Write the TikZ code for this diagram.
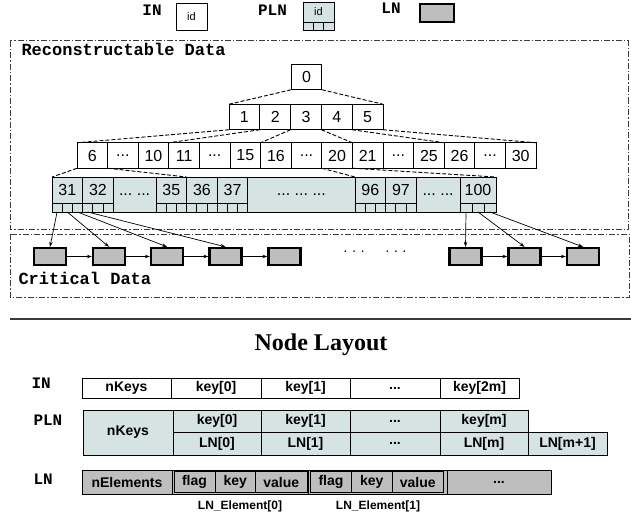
\documentclass[tikz,border=0pt]{standalone}
\usepackage{fontspec}
\setmainfont{Liberation Sans}
\setmonofont{Liberation Mono}
\newfontfamily\timesfont{Liberation Serif}
\usetikzlibrary{arrows.meta}
\definecolor{plnblue}{RGB}{214,227,227}
\definecolor{lngray}{RGB}{190,190,190}
\definecolor{framegray}{RGB}{60,60,60}
\newcommand\fsz[1]{\fontsize{#1}{#1}\selectfont}
\newcommand\ellip{...}

\tikzset{
  tcell/.style={draw, line width=0.9pt, inner sep=0pt, outer sep=0pt,
    minimum width=30.6pt, minimum height=25.5pt, font=\fsz{16}},
  leaf/.style={tcell, fill=plnblue, minimum height=26pt, anchor=north west},
  ptr/.style={draw, fill=plnblue, line width=0.7pt, inner sep=0pt, outer sep=0pt,
    minimum width=10.2pt, minimum height=9pt, anchor=north west},
  lnbox/.style={draw, fill=lngray, line width=2.3pt, inner sep=0pt,
    minimum width=32pt, minimum height=17pt},
  tag/.style={font=\ttfamily\bfseries\fsz{16}},
  frame/.style={draw=framegray, line width=1pt,
    dash pattern=on 6pt off 2pt on 1.5pt off 2pt},
  treelink/.style={line width=0.9pt, dash pattern=on 4pt off 2pt},
  ptrlink/.style={line width=0.7pt, -{Stealth[length=5pt,width=3.5pt]}},
  fcell/.style={draw, line width=0.9pt, inner sep=0pt, outer sep=0pt,
    anchor=west, font=\bfseries\fsz{14}},
}

\begin{document}
\begin{tikzpicture}[x=1pt,y=-1pt]
  \useasboundingbox (0,0) rectangle (631,516);

  % legend
  \node[tag] (inkey) at (152,10) {IN};
  \node[tcell, minimum width=31pt, minimum height=27pt, font=\fsz{11}] (inlegend) at (191.5,17) {id};
  \node[tag] (plnkey) at (272.5,10) {PLN};
  \node[leaf, minimum width=31pt, minimum height=20pt, font=\fsz{11}] (plnlegend) at (303,2) {id};
  \foreach \k in {1,2,3}
    \node[ptr, minimum width=10.33pt, minimum height=8.5pt] (plnptr\k) at ({303+10.33*(\k-1)},22) {};
  \node[tag] (lnkey) at (391,8) {LN};
  \node[lnbox, minimum width=34pt, minimum height=18pt] (lnlegend) at (437,13) {};

  % frames
  \draw[frame] (10,41) rectangle (628,229);
  \draw[frame] (10,234) rectangle (629,297);
  \node[tag, font=\ttfamily\bfseries\fsz{17}, anchor=west] (recon) at (18,49) {Reconstructable Data};
  \node[tag, font=\ttfamily\bfseries\fsz{17}, anchor=west] (crit) at (15,278) {Critical Data};

  % tree
  \node[tcell] (r0) at (306.5,77) {0};
  \foreach \i in {1,...,5}
    \node[tcell, minimum width=30.8pt] (a\i) at ({229+30.8*(\i-0.5)},117) {\i};
  \foreach \t [count=\i] in {6,\ellip,10,11,\ellip,15,16,\ellip,20,21,\ellip,25,26,\ellip,30}
    \node[tcell] (b\i) at ({77+30.6*(\i-0.5)},155.5) {\t};
  \foreach \n/\x in {31/52,32/82.6,35/156,36/186.6,37/217.2,96/355,97/385.6} {
    \node[leaf] (l\n) at (\x,177) {\n};
    \foreach \k in {1,2,3}
      \node[ptr] (p\n\k) at ({\x+10.2*(\k-1)},203) {};
  }
  \node[leaf, minimum width=36pt] (l100) at (460,177) {100};
  \foreach \k in {1,2,3}
    \node[ptr, minimum width=12pt] (p100\k) at ({460+12*(\k-1)},203) {};
  \node[leaf, minimum width=42.8pt, minimum height=35pt] (g1) at (113.2,177) {\ellip\ \ellip};
  \node[leaf, minimum width=107.2pt, minimum height=35pt] (g2) at (247.8,177) {\ellip\ \ellip\ \ellip};
  \node[leaf, minimum width=43.8pt, minimum height=35pt] (g3) at (416.2,177) {\ellip\ \ellip};

  \draw[treelink] (r0.south west) -- (a1.north west);
  \draw[treelink] (r0.south east) -- (a5.north east);
  \foreach \p/\f/\l in {1/1/3,3/7/9,5/13/15} {
    \draw[treelink] (a\p.south west) -- (b\f.north west);
    \draw[treelink] (a\p.south east) -- (b\l.north east);
  }
  \draw[treelink] (b1.south west) -- (l31.north west);
  \draw[treelink] (b1.south east) -- (l35.north east);
  \draw[treelink] (b9.south west) -- (l96.north west);
  \draw[treelink] (b9.south east) -- (l100.north east);

  % critical data
  \foreach \x [count=\i] in {50,109,167,225.5,284.5,465.5,524.5,583}
    \node[lnbox] (c\i) at (\x,256.5) {};
  \foreach \i/\j in {1/2,2/3,3/4,4/5,6/7,7/8}
    \draw[ptrlink] (c\i) -- (c\j);
  \node[anchor=base, font=\fsz{14}] (cdots) at (375,255) {· · ·\hspace{20pt}· · ·};
  \draw[ptrlink] (p311.south) -- (c1.north);
  \draw[ptrlink] (p312.south) -- (c2.north);
  \draw[ptrlink] (p313.south) -- (c3.north);
  \draw[ptrlink] (p321.south) -- (c4.north);
  \draw[ptrlink] (p1001.south) -- (c6.north);
  \draw[ptrlink] (p1002.south) -- (c7.north);
  \draw[ptrlink] (p1003.south) -- (c8.north);

  % node layout
  \draw[line width=1.3pt, framegray] (10,319) -- (631,319);
  \node[font=\timesfont\bfseries\fsz{24}] (title) at (321,345) {Node Layout};

  \node[tag, anchor=west] (inrow) at (28,383) {IN};
  \foreach \t/\l/\r [count=\i] in {nKeys/82/171,key[0]/171/261,key[1]/261/350,\ellip/350/440,key[2m]/440/519}
    \node[fcell, minimum width=\r-\l, minimum height=20pt] (in\i) at (\l,388) {\t};

  \node[tag, anchor=west] (plnrow) at (30,420) {PLN};
  \node[fcell, fill=plnblue, minimum width=90pt, minimum height=45pt] (pn) at (83,432.5) {nKeys};
  \foreach \t/\l/\r [count=\i] in {key[0]/173/261,key[1]/261/350,\ellip/350/440,key[m]/440/528}
    \node[fcell, fill=plnblue, minimum width=\r-\l, minimum height=22pt] (pk\i) at (\l,421) {\t};
  \foreach \t/\l/\r [count=\i] in {LN[0]/173/261,LN[1]/261/350,\ellip/350/440,LN[m]/440/528,LN[m+1]/528/607}
    \node[fcell, fill=plnblue, minimum width=\r-\l, minimum height=23pt] (pl\i) at (\l,443.5) {\t};

  \node[tag, anchor=west] (lnrow) at (30,479) {LN};
  \node[fcell, fill=lngray, minimum width=90pt, minimum height=24pt] (ln0) at (82,482) {nElements};
  \node[fcell, fill=lngray, minimum width=136.5pt, minimum height=24pt] (ln1) at (172,482) {};
  \node[fcell, fill=lngray, minimum width=138.5pt, minimum height=24pt] (ln2) at (308.5,482) {};
  \node[fcell, fill=lngray, minimum width=104pt, minimum height=24pt] (ln3) at (447,482) {\ellip};
  \foreach \e/\x in {1/174,2/310.5}
    \foreach \t/\dx/\w [count=\k] in {flag/0/41,key/41/40.5,value/81.5/51.5}
      \node[fcell, fill=lngray, line width=0.7pt, minimum width=\w, minimum height=20.5pt] (el\e\k) at (\x+\dx,482) {\t};
  \node[font=\bfseries\fsz{12}] (elab1) at (240,506) {LN\_Element[0]};
  \node[font=\bfseries\fsz{12}] (elab2) at (378,506) {LN\_Element[1]};
\end{tikzpicture}
\end{document}
